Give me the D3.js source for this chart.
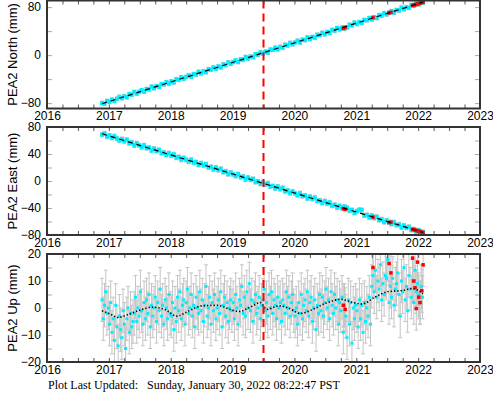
<!DOCTYPE html>
<html>
<head>
<meta charset="utf-8">
<script src="https://d3js.org/d3.v7.min.js"></script>
<style>
  body { margin: 0; background: #fff; }
  svg { display: block; }
  .tick text { font-family: "Liberation Sans", Arial, sans-serif; font-size: 12px; fill: #000; }
</style>
</head>
<body>
<div class="graphContainer"></div>
<script>
// Horizontal epochs (decimal year) for North and East
const epochs = [2016.89,2016.93,2016.97,
  2017.01,2017.05,2017.09,2017.13,2017.17,2017.21,2017.25,2017.29,2017.33,2017.37,2017.41,2017.45,2017.49,2017.53,2017.57,2017.61,2017.65,2017.69,2017.73,2017.77,2017.81,2017.85,2017.89,2017.93,2017.97,
  2018.01,2018.05,2018.09,2018.13,2018.17,2018.21,2018.25,2018.29,2018.33,2018.37,2018.41,2018.45,2018.49,2018.53,2018.57,2018.61,2018.65,2018.69,2018.73,2018.77,2018.81,2018.85,2018.89,2018.93,2018.97,
  2019.01,2019.05,2019.09,2019.13,2019.17,2019.21,2019.25,2019.29,2019.33,2019.37,2019.41,2019.45,2019.49,2019.53,2019.57,2019.61,2019.65,2019.69,2019.73,2019.77,2019.81,2019.85,2019.89,2019.93,2019.97,
  2020.01,2020.05,2020.09,2020.13,2020.17,2020.21,2020.25,2020.29,2020.33,2020.37,2020.41,2020.45,2020.49,2020.53,2020.57,2020.61,2020.65,2020.69,2020.73,2020.77,2020.81,2020.85,2020.89,2020.93,2020.97,
  2021.01,2021.05,2021.09,2021.13,2021.17,2021.21,2021.25,2021.29,2021.33,2021.37,2021.41,2021.45,2021.49,2021.53,2021.57,2021.61,2021.65,2021.69,2021.73,2021.77,2021.81,2021.85,2021.89,2021.93,2021.97,
  2022.01,2022.05,2022.08];

// North component (mm)
const north = [-79.8,-81.2,-76.4,
  -77.9,-74.2,-76.6,-72.8,-69.6,-71.8,-68.4,-70.4,-64.9,-66.0,-61.4,-64.4,-61.2,-58.2,-61.0,-56.4,-57.1,-52.5,-55.2,-51.6,-53.0,-48.2,-48.8,-45.0,-47.6,
  -43.7,-45.5,-40.2,-41.3,-36.8,-39.4,-36.4,-33.5,-36.2,-31.6,-32.4,-27.9,-30.4,-26.9,-28.6,-23.5,-24.1,-20.3,-22.9,-18.8,-20.6,-15.5,-16.6,-12.1,-14.5,
  -11.5,-8.8,-11.6,-7.0,-7.8,-3.1,-5.8,-2.3,-3.5,1.5,0.6,4.7,2.3,5.8,4.0,9.2,8.6,12.3,9.7,13.7,12.1,17.3,16.1,20.4,18.0,
  21.0,23.9,21.1,25.7,24.9,29.6,26.9,30.4,28.8,34.0,33.3,37.2,34.6,38.6,36.8,42.0,40.8,45.2,42.9,45.9,44.2,46.2,50.6,49.7,54.2,
  51.7,55.2,53.6,58.7,58.0,61.9,59.3,63.3,61.6,66.8,65.6,70.0,67.7,70.7,73.4,70.8,75.2,74.4,79.0,76.5,79.9,78.7,83.6,82.7,86.5,
  84.5,88.0,87.7];

// East component (mm)
const east = [68.8,70.4,65.7,
  67.4,63.9,66.5,62.8,59.8,62.2,58.9,61.1,55.8,57.1,52.7,55.9,52.9,50.1,53.0,48.6,49.5,45.0,47.9,44.5,46.1,41.4,42.2,38.6,41.3,
  37.6,39.6,34.5,35.7,31.4,34.2,31.3,28.6,31.5,27.1,28.1,23.8,26.5,23.2,25.0,20.1,20.9,17.2,20.0,16.1,18.1,13.1,14.4,10.1,12.6,
  9.8,7.3,10.3,5.8,6.8,2.3,5.1,1.8,3.2,-1.6,-0.5,-4.4,-1.8,-5.1,-3.2,-8.2,-7.4,-11.0,-8.2,-12.0,-10.2,-15.3,-13.9,-18.0,-15.5,
  -18.3,-21.0,-18.0,-22.5,-21.5,-26.0,-23.2,-26.5,-24.7,-29.6,-28.8,-32.5,-29.7,-33.5,-31.6,-36.6,-35.2,-39.5,-37.0,-39.8,-37.9,-39.8,-44.0,-42.9,-47.3,
  -44.6,-42.5,-43.0,-51.1,-50.2,-53.9,-51.2,-55.0,-53.0,-58.0,-56.7,-60.9,-58.4,-61.3,-63.8,-61.0,-65.2,-64.3,-68.7,-66.0,-69.3,-67.9,-72.6,-71.5,-75.2,
  -73.0,-76.3,-75.8];

// Vertical epochs (decimal year)
const upEpochs = [2016.89,2016.91,2016.93,2016.95,2016.97,2016.99,
  2017.01,2017.03,2017.05,2017.07,2017.09,2017.11,2017.13,2017.15,2017.17,2017.19,2017.21,2017.23,2017.25,2017.27,2017.29,2017.31,2017.33,2017.35,2017.37,2017.39,
  2017.41,2017.43,2017.45,2017.47,2017.49,2017.51,2017.53,2017.55,2017.57,2017.59,2017.61,2017.63,2017.65,2017.67,2017.69,2017.71,2017.73,2017.75,2017.77,2017.79,
  2017.81,2017.83,2017.85,2017.87,2017.89,2017.91,2017.93,2017.95,2017.97,2017.99,
  2018.01,2018.03,2018.05,2018.07,2018.09,2018.11,2018.13,2018.15,2018.17,2018.19,2018.21,2018.23,2018.25,2018.27,2018.29,2018.31,2018.33,2018.35,2018.37,2018.39,
  2018.41,2018.43,2018.45,2018.47,2018.49,2018.51,2018.53,2018.55,2018.57,2018.59,2018.61,2018.63,2018.65,2018.67,2018.69,2018.71,2018.73,2018.75,2018.77,2018.79,
  2018.81,2018.83,2018.85,2018.87,2018.89,2018.91,2018.93,2018.95,2018.97,2018.99,
  2019.01,2019.03,2019.05,2019.07,2019.09,2019.11,2019.13,2019.15,2019.17,2019.19,2019.21,2019.23,2019.25,2019.27,2019.29,2019.31,2019.33,2019.35,2019.37,2019.39,
  2019.41,2019.43,2019.45,2019.47,2019.49,2019.51,2019.53,2019.55,2019.57,2019.59,2019.61,2019.63,2019.65,2019.67,2019.69,2019.71,2019.73,2019.75,2019.77,2019.79,
  2019.81,2019.83,2019.85,2019.87,2019.89,2019.91,2019.93,2019.95,2019.97,2019.99,
  2020.01,2020.03,2020.05,2020.07,2020.09,2020.11,2020.13,2020.15,2020.17,2020.19,2020.21,2020.23,2020.25,2020.27,2020.29,2020.31,2020.33,2020.35,2020.37,2020.39,
  2020.41,2020.43,2020.45,2020.47,2020.49,2020.51,2020.53,2020.55,2020.57,2020.59,2020.61,2020.63,2020.65,2020.67,2020.69,2020.71,2020.73,2020.75,2020.77,2020.79,
  2020.81,2020.83,2020.85,2020.87,2020.89,2020.91,2020.93,2020.95,2020.97,2020.99,
  2021.01,2021.03,2021.05,2021.07,2021.09,2021.11,2021.13,2021.15,2021.17,2021.19,2021.21,2021.23,2021.25,2021.27,2021.29,2021.31,2021.33,2021.35,2021.37,2021.39,
  2021.41,2021.43,2021.45,2021.47,2021.49,2021.51,2021.53,2021.55,2021.57,2021.59,2021.61,2021.63,2021.65,2021.67,2021.69,2021.71,2021.73,2021.75,2021.77,2021.79,
  2021.81,2021.83,2021.85,2021.87,2021.89,2021.91,2021.93,2021.95,2021.97,2021.99,
  2022.01,2022.03,2022.05,2022.07];

// Up component (mm)
const up = [3,-4,1,6,-2,0,
  -6,2,-9,-4,-12,1,-7,-14,-3,-8,-11,-1,-6,-15,-4,0,-9,-2,-7,-5,
  -2,4,-5,0,-3,6,-1,-6,2,-4,3,-2,5,-7,1,-3,0,4,-5,2,
  -1,7,-3,1,-6,3,0,-4,5,-2,
  -3,2,-8,0,-5,4,-1,6,-4,1,3,-6,2,7,-2,0,5,-3,1,-7,
  4,0,-2,6,-1,3,-5,1,8,-3,0,4,-6,2,-1,5,-4,0,3,-2,
  6,-7,1,4,-3,2,-5,0,3,-1,
  2,-4,5,0,-6,3,1,8,-2,4,-3,6,0,9,-1,3,-5,2,5,-2,
  0,4,-4,1,3,7,-1,2,-3,5,0,6,-2,3,1,-4,4,0,2,-5,
  3,1,-2,6,0,4,-3,2,5,-1,
  -3,0,-6,2,-2,5,-4,1,3,-1,6,-3,2,4,-5,0,3,-8,1,-2,
  5,-1,4,-3,2,7,0,3,-4,6,1,-2,5,0,3,-6,2,-1,4,-9,
  1,-3,-11,3,-6,2,-13,0,-4,1,
  -1,-7,3,-4,1,-9,2,-5,0,-3,4,-6,8,12,6,14,4,10,7,16,
  3,9,5,12,11,18,2,8,4,11,1,7,9,13,5,-3,10,6,15,3,
  8,-1,12,7,4,10,2,14,6,9,
  5,2,8,4];

// One-sigma uncertainties (mm)
const sigmaNorth = 3;
const sigmaEast = 3;
const sigmaUp = 8;

// Rejected (red) observations
const redEpochs = [2020.79,2020.82,2021.27,2021.53,2021.56,2021.91,2021.93,2021.95,2021.97,2021.99,2022.01,2022.03,2022.06,2022.08];
const redNorth = [44.5,46.0,62.5,70.3,71.2,82.7,83.3,84.0,84.6,85.3,85.9,86.6,87.5,88.2];
const redEast = [-41.0,-41.8,-53.5,-61.6,-61.0,-71.6,-72.1,-72.7,-73.3,-73.8,-74.4,-74.9,-75.8,-76.4];
const redUp = [1.0,-0.5,15,16.5,13.0,18.5,10,7.5,-0.2,17.0,4,2.0,6.4,16.0];

// Fitted models
const northModelEpochs = [2016.89, 2019.5, 2022.08];
const northModel = [-81.0, 4.0, 88.5];
const eastModelEpochs = [2016.89, 2019.5, 2022.08];
const eastModel = [70.0, -3.6, -76.3];
const upModelEpochs = [2016.89,2017.0,2017.15,2017.3,2017.5,2017.7,2017.9,2018.1,2018.3,2018.5,2018.75,2019.0,2019.1,2019.3,2019.45,2019.55,2019.75,2019.9,2020.1,2020.3,2020.5,2020.75,2020.95,2021.1,2021.3,2021.5,2021.75,2021.9,2022.08];
const upModel = [-1.0,-2.0,-3.5,-2.5,-0.8,0.3,-0.5,-3.0,-1.0,0.8,1.0,-0.8,-1.3,0.5,2.0,-0.5,0.8,0,-2.0,-0.5,1.7,3.2,2.0,1.5,4.0,6.0,6.5,7.2,5.3];

// Axis tick labels
const yearTicks = [2016,2017,2018,2019,2020,2021,2022,2023];
const breakEpoch = 2019.5;
const footer = "Plot Last Updated:   Sunday, January 30, 2022 08:22:47 PST";

const w = 493;
const h = 400;
const left = 47, right = 480, ph = 108;

const svg = d3.select(".graphContainer").append("svg")
  .attr("width", w).attr("height", h);

const xScale = d3.scaleLinear().domain([2016, 2023]).range([left, right]);
const quarters = d3.range(2016, 2023.001, 0.25);

const panels = [
  {top: 0.5, title: "PEA2 North (mm)", domain: [-89, 91], labels: [-80, 0, 80], minor: [-80, -40, 0, 40, 80],
   t: epochs, obs: north, sigma: sigmaNorth, red: redNorth, mE: northModelEpochs, m: northModel, dotted: false, ms: 4},
  {top: 127, title: "PEA2 East (mm)", domain: [-80, 80], labels: [-80, -40, 0, 40, 80], minor: d3.range(-80, 81, 20),
   t: epochs, obs: east, sigma: sigmaEast, red: redEast, mE: eastModelEpochs, m: eastModel, dotted: false, ms: 4},
  {top: 254, title: "PEA2 Up (mm)", domain: [-20, 20], labels: [-20, -10, 0, 10, 20], minor: d3.range(-20, 21, 5),
   t: upEpochs, obs: up, sigma: sigmaUp, red: redUp, mE: upModelEpochs, m: upModel, dotted: true, ms: 3}
];

const fmt = d => d < 0 ? "\u2212" + Math.abs(d) : "" + d;

panels.forEach((p, pi) => {
  const yScale = d3.scaleLinear().domain(p.domain).range([p.top + ph, p.top]);
  const g = svg.append("g");

  // clip data to the frame
  svg.append("clipPath").attr("id", "clip" + pi)
    .append("rect").attr("x", left).attr("y", p.top).attr("width", right - left).attr("height", ph);
  const data = g.append("g").attr("clip-path", "url(#clip" + pi + ")");

  // error bars with caps
  const bars = data.append("g").attr("stroke", "#c4c4c4").attr("stroke-width", 1);
  const errorBar = (t, v) => {
    const cx = xScale(t), y0 = yScale(v - p.sigma), y1 = yScale(v + p.sigma);
    bars.append("line").attr("x1", cx).attr("x2", cx).attr("y1", y0).attr("y2", y1);
    bars.append("line").attr("x1", cx - 2).attr("x2", cx + 2).attr("y1", y0).attr("y2", y0);
    bars.append("line").attr("x1", cx - 2).attr("x2", cx + 2).attr("y1", y1).attr("y2", y1);
  };
  p.t.forEach((t, i) => errorBar(t, p.obs[i]));
  redEpochs.forEach((t, i) => errorBar(t, p.red[i]));

  // observations
  data.selectAll(".obs").data(p.t).enter().append("rect")
    .attr("class", "obs")
    .attr("x", (d) => xScale(d) - p.ms / 2)
    .attr("y", (d, i) => yScale(p.obs[i]) - p.ms / 2)
    .attr("width", p.ms).attr("height", p.ms)
    .attr("fill", "#00eeff");

  data.selectAll(".rej").data(redEpochs).enter().append("rect")
    .attr("class", "rej")
    .attr("x", (d) => xScale(d) - 1.75)
    .attr("y", (d, i) => yScale(p.red[i]) - 1.75)
    .attr("width", 3.5).attr("height", 3.5)
    .attr("fill", "#ff0000");

  // model
  const line = d3.line()
    .x((d) => xScale(d[0]))
    .y((d) => yScale(d[1]))
    .curve(p.dotted ? d3.curveMonotoneX : d3.curveLinear);
  data.append("path")
    .datum(p.mE.map((t, i) => [t, p.m[i]]))
    .attr("d", line)
    .attr("fill", "none")
    .attr("stroke", "#000")
    .attr("stroke-width", p.dotted ? 1.6 : 1.2)
    .attr("stroke-dasharray", p.dotted ? "1.3,2" : "5,4");

  // break line
  g.append("line")
    .attr("x1", xScale(breakEpoch)).attr("x2", xScale(breakEpoch))
    .attr("y1", p.top).attr("y2", p.top + ph)
    .attr("stroke", "#ff0000").attr("stroke-width", 2)
    .attr("stroke-dasharray", "8,5");

  // inner ticks
  const tickStyle = (sel, col) => {
    sel.select(".domain").remove();
    sel.selectAll(".tick line").attr("stroke", col);
  };
  g.append("g").attr("transform", "translate(0," + (p.top + ph) + ")")
    .call(d3.axisBottom(xScale).tickValues(quarters).tickSize(-4).tickFormat(""))
    .call(tickStyle, "#555");
  g.append("g").attr("transform", "translate(0," + p.top + ")")
    .call(d3.axisTop(xScale).tickValues(quarters).tickSize(-4).tickFormat(""))
    .call(tickStyle, "#555");
  g.append("g").attr("transform", "translate(" + left + ",0)")
    .call(d3.axisLeft(yScale).tickValues(p.minor).tickSize(-5).tickFormat(""))
    .call(tickStyle, "#aaa");
  g.append("g").attr("transform", "translate(" + right + ",0)")
    .call(d3.axisRight(yScale).tickValues(p.minor).tickSize(-5).tickFormat(""))
    .call(tickStyle, "#aaa");

  // tick labels
  g.append("g").attr("transform", "translate(" + left + ",0)")
    .call(d3.axisLeft(yScale).tickValues(p.labels).tickSize(0).tickPadding(6).tickFormat(fmt))
    .call((s) => s.select(".domain").remove());
  g.append("g").attr("transform", "translate(0," + (p.top + ph) + ")")
    .call(d3.axisBottom(xScale).tickValues(yearTicks).tickSize(0).tickPadding(3).tickFormat(d3.format("d")))
    .call((s) => s.select(".domain").remove());

  // frame
  g.append("rect")
    .attr("x", left).attr("y", p.top).attr("width", right - left).attr("height", ph)
    .attr("fill", "none").attr("stroke", "#333").attr("stroke-width", 2);

  // axis title
  svg.append("text")
    .attr("transform", "translate(12," + (p.top + ph / 2) + ") rotate(-90)")
    .attr("text-anchor", "middle")
    .attr("dominant-baseline", "central")
    .style("font-family", "Liberation Sans, Arial, sans-serif")
    .style("font-size", "13px")
    .text(p.title);
});

svg.append("text")
  .attr("x", 48).attr("y", 389)
  .attr("xml:space", "preserve")
  .style("white-space", "pre")
  .style("font-family", "Liberation Serif, Times New Roman, serif")
  .style("font-size", "12px")
  .text(footer);
</script>
</body>
</html>
